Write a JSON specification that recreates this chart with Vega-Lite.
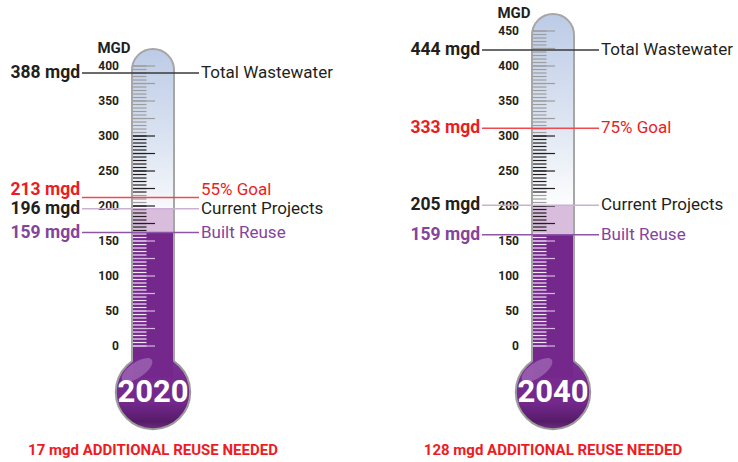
{
  "$schema": "https://vega.github.io/schema/vega-lite/v6.json",
  "width": 738,
  "height": 462,
  "autosize": {"type": "fit", "contains": "padding"},
  "padding": 0,
  "background": "white",
  "config": {"view": {"stroke": null}},
  "datasets": {
    "therm": [
      {"year": 2020, "max": 400, "current": 196, "built": 162, "need": "17 mgd ADDITIONAL REUSE NEEDED"},
      {"year": 2040, "max": 450, "current": 201, "built": 159, "need": "128 mgd ADDITIONAL REUSE NEEDED"}
    ],
    "notes": [
      {"year": 2020, "kind": "total", "level": 390, "value": "388 mgd", "name": "Total Wastewater"},
      {"year": 2020, "kind": "goal", "level": 212, "value": "213 mgd", "name": "55% Goal"},
      {"year": 2020, "kind": "current", "level": 196, "value": "196 mgd", "name": "Current Projects"},
      {"year": 2020, "kind": "built", "level": 162, "value": "159 mgd", "name": "Built Reuse"},
      {"year": 2040, "kind": "total", "level": 423, "value": "444 mgd", "name": "Total Wastewater"},
      {"year": 2040, "kind": "goal", "level": 311, "value": "333 mgd", "name": "75% Goal"},
      {"year": 2040, "kind": "current", "level": 201, "value": "205 mgd", "name": "Current Projects"},
      {"year": 2040, "kind": "built", "level": 159, "value": "159 mgd", "name": "Built Reuse"}
    ],
    "ticks": [
      {"year":2020,"v":0},{"year":2020,"v":5},{"year":2020,"v":10},{"year":2020,"v":15},{"year":2020,"v":20},{"year":2020,"v":25},{"year":2020,"v":30},{"year":2020,"v":35},{"year":2020,"v":40},{"year":2020,"v":45},
      {"year":2020,"v":50},{"year":2020,"v":55},{"year":2020,"v":60},{"year":2020,"v":65},{"year":2020,"v":70},{"year":2020,"v":75},{"year":2020,"v":80},{"year":2020,"v":85},{"year":2020,"v":90},{"year":2020,"v":95},
      {"year":2020,"v":100},{"year":2020,"v":105},{"year":2020,"v":110},{"year":2020,"v":115},{"year":2020,"v":120},{"year":2020,"v":125},{"year":2020,"v":130},{"year":2020,"v":135},{"year":2020,"v":140},{"year":2020,"v":145},
      {"year":2020,"v":150},{"year":2020,"v":155},{"year":2020,"v":160},{"year":2020,"v":165},{"year":2020,"v":170},{"year":2020,"v":175},{"year":2020,"v":180},{"year":2020,"v":185},{"year":2020,"v":190},{"year":2020,"v":195},
      {"year":2020,"v":200},{"year":2020,"v":205},{"year":2020,"v":210},{"year":2020,"v":215},{"year":2020,"v":220},{"year":2020,"v":225},{"year":2020,"v":230},{"year":2020,"v":235},{"year":2020,"v":240},{"year":2020,"v":245},
      {"year":2020,"v":250},{"year":2020,"v":255},{"year":2020,"v":260},{"year":2020,"v":265},{"year":2020,"v":270},{"year":2020,"v":275},{"year":2020,"v":280},{"year":2020,"v":285},{"year":2020,"v":290},{"year":2020,"v":295},
      {"year":2020,"v":300},{"year":2020,"v":305},{"year":2020,"v":310},{"year":2020,"v":315},{"year":2020,"v":320},{"year":2020,"v":325},{"year":2020,"v":330},{"year":2020,"v":335},{"year":2020,"v":340},{"year":2020,"v":345},
      {"year":2020,"v":350},{"year":2020,"v":355},{"year":2020,"v":360},{"year":2020,"v":365},{"year":2020,"v":370},{"year":2020,"v":375},{"year":2020,"v":380},{"year":2020,"v":385},{"year":2020,"v":390},{"year":2020,"v":395},
      {"year":2020,"v":400},
      {"year":2040,"v":0},{"year":2040,"v":5},{"year":2040,"v":10},{"year":2040,"v":15},{"year":2040,"v":20},{"year":2040,"v":25},{"year":2040,"v":30},{"year":2040,"v":35},{"year":2040,"v":40},{"year":2040,"v":45},
      {"year":2040,"v":50},{"year":2040,"v":55},{"year":2040,"v":60},{"year":2040,"v":65},{"year":2040,"v":70},{"year":2040,"v":75},{"year":2040,"v":80},{"year":2040,"v":85},{"year":2040,"v":90},{"year":2040,"v":95},
      {"year":2040,"v":100},{"year":2040,"v":105},{"year":2040,"v":110},{"year":2040,"v":115},{"year":2040,"v":120},{"year":2040,"v":125},{"year":2040,"v":130},{"year":2040,"v":135},{"year":2040,"v":140},{"year":2040,"v":145},
      {"year":2040,"v":150},{"year":2040,"v":155},{"year":2040,"v":160},{"year":2040,"v":165},{"year":2040,"v":170},{"year":2040,"v":175},{"year":2040,"v":180},{"year":2040,"v":185},{"year":2040,"v":190},{"year":2040,"v":195},
      {"year":2040,"v":200},{"year":2040,"v":205},{"year":2040,"v":210},{"year":2040,"v":215},{"year":2040,"v":220},{"year":2040,"v":225},{"year":2040,"v":230},{"year":2040,"v":235},{"year":2040,"v":240},{"year":2040,"v":245},
      {"year":2040,"v":250},{"year":2040,"v":255},{"year":2040,"v":260},{"year":2040,"v":265},{"year":2040,"v":270},{"year":2040,"v":275},{"year":2040,"v":280},{"year":2040,"v":285},{"year":2040,"v":290},{"year":2040,"v":295},
      {"year":2040,"v":300},{"year":2040,"v":305},{"year":2040,"v":310},{"year":2040,"v":315},{"year":2040,"v":320},{"year":2040,"v":325},{"year":2040,"v":330},{"year":2040,"v":335},{"year":2040,"v":340},{"year":2040,"v":345},
      {"year":2040,"v":350},{"year":2040,"v":355},{"year":2040,"v":360},{"year":2040,"v":365},{"year":2040,"v":370},{"year":2040,"v":375},{"year":2040,"v":380},{"year":2040,"v":385},{"year":2040,"v":390},{"year":2040,"v":395},
      {"year":2040,"v":400},{"year":2040,"v":405},{"year":2040,"v":410},{"year":2040,"v":415},{"year":2040,"v":420},{"year":2040,"v":425},{"year":2040,"v":430},{"year":2040,"v":435},{"year":2040,"v":440},{"year":2040,"v":445},
      {"year":2040,"v":450}
    ]
  },
  "layer": [
    {
      "data": {"name": "therm"},
      "mark": {"type": "rect", "cornerRadiusTopLeft": 21, "cornerRadiusTopRight": 21, "xOffset": -21, "x2Offset": 21, "yOffset": -17, "y2Offset": 26, "stroke": "#a6a6a6", "strokeWidth": 2,
        "fill": {"gradient": "linear", "x1": 0, "y1": 0, "x2": 0, "y2": 1, "stops": [{"offset": 0, "color": "#bccbe6"}, {"offset": 0.3, "color": "#dde5f2"}, {"offset": 0.55, "color": "#ffffff"}, {"offset": 1, "color": "#ffffff"}]}},
      "encoding": {
        "x": {"field": "year", "type": "quantitative", "scale": {"domain": [2012.35, 2049.25], "nice": false, "zero": false}, "axis": null},
        "x2": {"field": "year"},
        "y": {"field": "max", "type": "quantitative", "scale": {"domain": [-165.7, 494.3], "nice": false, "zero": false}, "axis": null},
        "y2": {"datum": 0}
      }
    },
    {
      "data": {"name": "therm"},
      "mark": {"type": "point", "shape": "circle", "filled": true, "size": 5542, "yOffset": 46, "opacity": 1, "stroke": "#9b9b9b", "strokeWidth": 2,
        "fill": {"gradient": "linear", "x1": 0, "y1": 0, "x2": 0, "y2": 1, "stops": [{"offset": 0, "color": "#7b2e93"}, {"offset": 0.65, "color": "#73288b"}, {"offset": 0.9, "color": "#561b68"}, {"offset": 1, "color": "#6b3180"}]}},
      "encoding": {
        "x": {"field": "year", "type": "quantitative"},
        "y": {"datum": 0, "type": "quantitative"}
      }
    },
    {
      "data": {"name": "therm"},
      "mark": {"type": "rect", "xOffset": -20, "x2Offset": 20, "y2Offset": 32, "fill": "#74288c"},
      "encoding": {
        "x": {"field": "year", "type": "quantitative"},
        "x2": {"field": "year"},
        "y": {"field": "built", "type": "quantitative"},
        "y2": {"datum": 0}
      }
    },
    {
      "data": {"name": "therm"},
      "mark": {"type": "rect", "xOffset": -20, "x2Offset": 20, "fill": "#d8bddd"},
      "encoding": {
        "x": {"field": "year", "type": "quantitative"},
        "x2": {"field": "year"},
        "y": {"field": "current", "type": "quantitative"},
        "y2": {"field": "built"}
      }
    },
    {
      "data": {"name": "therm"},
      "mark": {"type": "point", "shape": "M -1 0 A 1 0.42 0 1 1 1 0 A 1 0.42 0 1 1 -1 0 Z", "filled": true, "size": 1300, "angle": -35, "xOffset": -16, "yOffset": 24, "fill": "#c6a3d6", "opacity": 0.4, "strokeWidth": 0},
      "encoding": {
        "x": {"field": "year", "type": "quantitative"},
        "y": {"datum": 0, "type": "quantitative"}
      }
    },
    {
      "data": {"name": "ticks"},
      "mark": {"type": "rule", "xOffset": -20, "x2Offset": -6.5, "strokeWidth": 1.2},
      "encoding": {
        "x": {"field": "year", "type": "quantitative"},
        "x2": {"field": "year"},
        "y": {"field": "v", "type": "quantitative"},
        "color": {"condition": [
          {"test": "datum.v <= 160", "value": "#f3eaf6"},
          {"test": "datum.v > 300 || (datum.v >= 205 && datum.v <= 215)", "value": "#9d9d9d"}
        ], "value": "#231f20"}
      }
    },
    {
      "data": {"name": "ticks"},
      "transform": [{"filter": "datum.v % 25 == 0"}],
      "mark": {"type": "rule", "xOffset": -20, "x2Offset": 2, "strokeWidth": 1.2},
      "encoding": {
        "x": {"field": "year", "type": "quantitative"},
        "x2": {"field": "year"},
        "y": {"field": "v", "type": "quantitative"},
        "color": {"condition": [
          {"test": "datum.v <= 160", "value": "#d7b8e2"},
          {"test": "datum.v > 300 || (datum.v >= 205 && datum.v <= 215)", "value": "#9d9d9d"}
        ], "value": "#231f20"}
      }
    },
    {
      "data": {"name": "ticks"},
      "transform": [{"filter": "datum.v % 50 == 0"}],
      "mark": {"type": "text", "align": "right", "baseline": "middle", "xOffset": -34, "font": "Roboto, Liberation Sans, sans-serif", "fontSize": 12, "fontWeight": "bold", "color": "#231f20"},
      "encoding": {
        "x": {"field": "year", "type": "quantitative"},
        "y": {"field": "v", "type": "quantitative"},
        "text": {"field": "v", "type": "quantitative", "format": "d"}
      }
    },
    {
      "data": {"name": "therm"},
      "mark": {"type": "text", "align": "center", "baseline": "middle", "xOffset": -39, "yOffset": -18, "font": "Roboto, Liberation Sans, sans-serif", "fontSize": 15, "fontWeight": "bold", "color": "#231f20"},
      "encoding": {
        "x": {"field": "year", "type": "quantitative"},
        "y": {"field": "max", "type": "quantitative"},
        "text": {"value": "MGD"}
      }
    },
    {
      "data": {"name": "notes"},
      "mark": {"type": "rule", "xOffset": -71, "x2Offset": 46, "strokeWidth": 1.5},
      "encoding": {
        "x": {"field": "year", "type": "quantitative"},
        "x2": {"field": "year"},
        "y": {"field": "level", "type": "quantitative"},
        "color": {"condition": [
          {"test": "datum.kind == 'goal'", "value": "#ef4a4f"},
          {"test": "datum.kind == 'current'", "value": "#cbb0d3"},
          {"test": "datum.kind == 'built'", "value": "#8c55a6"}
        ], "value": "#3a3a3a"}
      }
    },
    {
      "data": {"name": "notes"},
      "transform": [{"filter": "!(datum.year == 2020 && datum.kind == 'goal')"}],
      "mark": {"type": "text", "align": "right", "baseline": "middle", "xOffset": -73, "font": "Roboto, Liberation Sans, sans-serif", "fontSize": 17.5, "fontWeight": "bold"},
      "encoding": {
        "x": {"field": "year", "type": "quantitative"},
        "y": {"field": "level", "type": "quantitative"},
        "text": {"field": "value"},
        "color": {"condition": [
          {"test": "datum.kind == 'goal'", "value": "#ed1c24"},
          {"test": "datum.kind == 'built'", "value": "#83449c"}
        ], "value": "#231f20"}
      }
    },
    {
      "data": {"name": "notes"},
      "transform": [{"filter": "!(datum.year == 2020 && datum.kind == 'goal')"}],
      "mark": {"type": "text", "align": "left", "baseline": "middle", "xOffset": 48, "font": "Roboto, Liberation Sans, sans-serif", "fontSize": 17},
      "encoding": {
        "x": {"field": "year", "type": "quantitative"},
        "y": {"field": "level", "type": "quantitative"},
        "text": {"field": "name"},
        "color": {"condition": [
          {"test": "datum.kind == 'goal'", "value": "#ed1c24"},
          {"test": "datum.kind == 'built'", "value": "#83449c"}
        ], "value": "#231f20"}
      }
    },
    {
      "data": {"name": "notes"},
      "transform": [{"filter": "datum.year == 2020 && datum.kind == 'goal'"}],
      "mark": {"type": "text", "align": "right", "baseline": "middle", "xOffset": -73, "yOffset": -7.5, "font": "Roboto, Liberation Sans, sans-serif", "fontSize": 17.5, "fontWeight": "bold", "color": "#ed1c24"},
      "encoding": {
        "x": {"field": "year", "type": "quantitative"},
        "y": {"field": "level", "type": "quantitative"},
        "text": {"field": "value"}
      }
    },
    {
      "data": {"name": "notes"},
      "transform": [{"filter": "datum.year == 2020 && datum.kind == 'goal'"}],
      "mark": {"type": "text", "align": "left", "baseline": "middle", "xOffset": 48, "yOffset": -7.5, "font": "Roboto, Liberation Sans, sans-serif", "fontSize": 17, "color": "#ed1c24"},
      "encoding": {
        "x": {"field": "year", "type": "quantitative"},
        "y": {"field": "level", "type": "quantitative"},
        "text": {"field": "name"}
      }
    },
    {
      "data": {"name": "therm"},
      "mark": {"type": "text", "align": "center", "baseline": "middle", "yOffset": 47, "font": "Roboto, Liberation Sans, sans-serif", "fontSize": 31, "fontWeight": "bold", "color": "#ffffff"},
      "encoding": {
        "x": {"field": "year", "type": "quantitative"},
        "y": {"datum": 0, "type": "quantitative"},
        "text": {"field": "year", "type": "quantitative", "format": "d"}
      }
    },
    {
      "data": {"name": "therm"},
      "mark": {"type": "text", "align": "center", "baseline": "middle", "yOffset": 104, "font": "Roboto, Liberation Sans, sans-serif", "fontSize": 15, "fontWeight": "bold", "color": "#ed1c24"},
      "encoding": {
        "x": {"field": "year", "type": "quantitative"},
        "y": {"datum": 0, "type": "quantitative"},
        "text": {"field": "need"}
      }
    }
  ]
}
